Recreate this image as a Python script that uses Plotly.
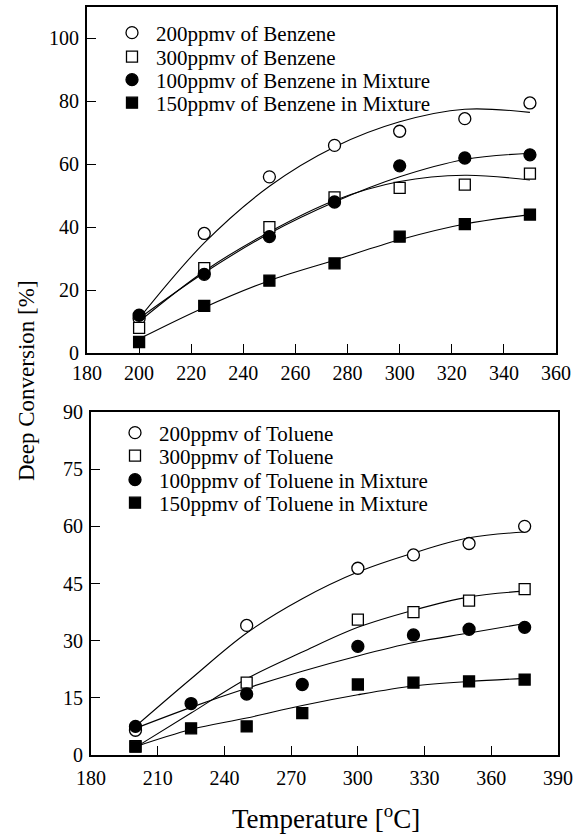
import plotly.graph_objects as go

W, H = 579, 834

# ---------------- data: top panel (Benzene) ----------------
temp_b = [200, 225, 250, 275, 300, 325, 350]
benz_200 = [11, 38, 56, 66, 70.5, 74.5, 79.5]
benz_300 = [8, 27, 40, 49.5, 52.5, 53.5, 57]
benz_mix100 = [12, 25, 37, 48, 59.5, 62, 63]
benz_mix150 = [3.5, 15, 23, 28.5, 37, 41, 44]
fit_b200 = [11, 35, 53, 65.5, 73.5, 77.5, 76.5]
fit_b300 = [10, 26, 38.5, 48.5, 54.5, 56.5, 55]
fit_bm100 = [11, 25.5, 38, 48, 56, 61.5, 63.5]
fit_bm150 = [4.5, 14.5, 23, 29.5, 36, 41, 44]

# ---------------- data: bottom panel (Toluene) ----------------
temp_t_sparse = [200, 250, 300, 325, 350, 375]
temp_t = [200, 225, 250, 275, 300, 325, 350, 375]
tol_200 = [6.5, 34, 49, 52.5, 55.5, 60]
tol_300 = [2.3, 19, 35.5, 37.5, 40.5, 43.5]
tol_mix100 = [7.5, 13.5, 16, 18.5, 28.5, 31.5, 33, 33.5]
tol_mix150 = [2.2, 7, 7.5, 11, 18.5, 19, 19.3, 19.8]
fit_t200 = [7.5, 20, 32, 41, 48, 53, 57, 58.5]
fit_t300 = [2, 11, 20, 27, 33.5, 38, 41.5, 43]
fit_tm100 = [7, 12.5, 17.5, 22, 26, 29.5, 32, 34.5]
fit_tm150 = [2.2, 6.7, 9.7, 13, 15.8, 18.1, 19.3, 20.1]

names_b = ["200ppmv of Benzene", "300ppmv of Benzene",
           "100ppmv of Benzene in Mixture", "150ppmv of Benzene in Mixture"]
names_t = ["200ppmv of Toluene", "300ppmv of Toluene",
           "100ppmv of Toluene in Mixture", "150ppmv of Toluene in Mixture"]

FONT = "Liberation Serif, Times New Roman, serif"

def px_x(p):
    return p / W

def px_y(p):
    return 1 - p / H

styles = [
    dict(symbol="circle", color="white", size=12),
    dict(symbol="square", color="white", size=11),
    dict(symbol="circle", color="black", size=12),
    dict(symbol="square", color="black", size=11),
]

fig = go.Figure()

# fit lines
for xs, ys in [(temp_b, fit_b200), (temp_b, fit_b300), (temp_b, fit_bm100), (temp_b, fit_bm150)]:
    fig.add_trace(go.Scatter(x=xs, y=ys, mode="lines", line=dict(color="black", width=1.1, shape="spline"),
                             showlegend=False, hoverinfo="skip", xaxis="x", yaxis="y"))
for xs, ys in [(temp_t, fit_t200), (temp_t, fit_t300), (temp_t, fit_tm100), (temp_t, fit_tm150)]:
    fig.add_trace(go.Scatter(x=xs, y=ys, mode="lines", line=dict(color="black", width=1.1, shape="spline"),
                             showlegend=False, hoverinfo="skip", xaxis="x2", yaxis="y2"))

# markers
top_sets = [(temp_b, benz_200), (temp_b, benz_300), (temp_b, benz_mix100), (temp_b, benz_mix150)]
bot_sets = [(temp_t_sparse, tol_200), (temp_t_sparse, tol_300), (temp_t, tol_mix100), (temp_t, tol_mix150)]
legend_ids = ["legend", "legend2", "legend3", "legend4", "legend5", "legend6", "legend7", "legend8"]

for i, ((xs, ys), nm) in enumerate(zip(top_sets, names_b)):
    st = styles[i]
    fig.add_trace(go.Scatter(x=xs, y=ys, mode="markers", name=nm, legend=legend_ids[i],
                             marker=dict(symbol=st["symbol"], size=st["size"], color=st["color"],
                                         line=dict(color="black", width=1.3)),
                             xaxis="x", yaxis="y"))
for i, ((xs, ys), nm) in enumerate(zip(bot_sets, names_t)):
    st = styles[i]
    fig.add_trace(go.Scatter(x=xs, y=ys, mode="markers", name=nm, legend=legend_ids[4 + i],
                             marker=dict(symbol=st["symbol"], size=st["size"], color=st["color"],
                                         line=dict(color="black", width=1.3)),
                             xaxis="x2", yaxis="y2"))

axis_common = dict(showline=True, linecolor="black", linewidth=2, mirror=True,
                   ticks="inside", tickcolor="black", tickwidth=1.3, ticklen=9,
                   showgrid=False, zeroline=False, automargin=False,
                   tickfont=dict(family=FONT, size=20, color="black"))

legend_rows_top = [33, 57, 80, 103]
legend_rows_bot = [433, 456, 480, 503]
legend_layout = {}
for i, py in enumerate(legend_rows_top + legend_rows_bot):
    lx = 108 if i < 4 else 111
    legend_layout[legend_ids[i]] = dict(
        x=px_x(lx), y=px_y(py), xanchor="left", yanchor="middle",
        bgcolor="rgba(0,0,0,0)", borderwidth=0, itemwidth=38,
        font=dict(family=FONT, size=21, color="black"))

fig.update_layout(
    width=W, height=H,
    margin=dict(l=0, r=0, t=0, b=0, autoexpand=False),
    paper_bgcolor="white", plot_bgcolor="white",
    xaxis=dict(domain=[px_x(87), px_x(556)], range=[180, 360], tickvals=list(range(180, 361, 20)),
               anchor="y", ticklabelstandoff=1, **axis_common),
    yaxis=dict(domain=[px_y(353), px_y(7)], range=[0, 110], tickvals=list(range(0, 101, 20)),
               anchor="x", ticklabelstandoff=2, **axis_common),
    xaxis2=dict(domain=[px_x(91), px_x(558)], range=[180, 390], tickvals=list(range(180, 391, 30)),
                anchor="y2", ticklabelstandoff=4, **axis_common),
    yaxis2=dict(domain=[px_y(755), px_y(412)], range=[0, 90], tickvals=list(range(0, 91, 15)),
                anchor="x2", ticklabelstandoff=2, **axis_common),
    annotations=[
        dict(text="Deep Conversion [%]", x=px_x(26), y=px_y(381), xref="paper", yref="paper",
             textangle=-90, showarrow=False, xanchor="center", yanchor="middle",
             font=dict(family=FONT, size=23, color="black")),
        dict(text="Temperature [<sup>o</sup>C]", x=px_x(326), y=px_y(817), xref="paper", yref="paper",
             showarrow=False, xanchor="center", yanchor="middle",
             font=dict(family=FONT, size=27, color="black")),
    ],
    **legend_layout,
)

fig.write_html("out.html")
